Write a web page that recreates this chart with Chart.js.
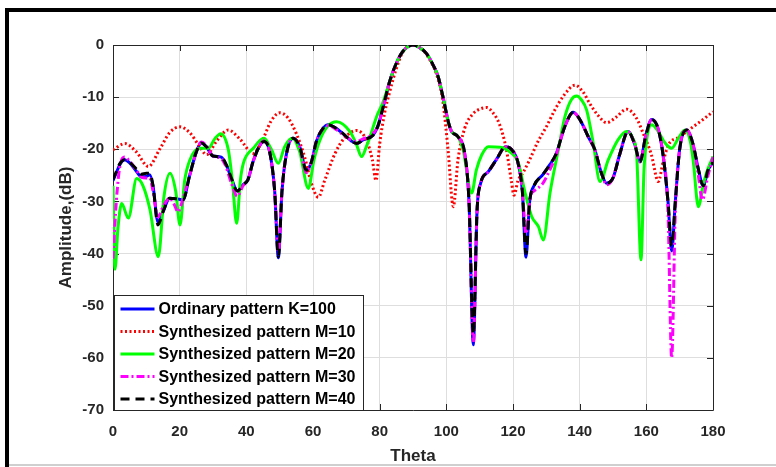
<!DOCTYPE html>
<html>
<head>
<meta charset="utf-8">
<script src="https://cdn.jsdelivr.net/npm/chart.js@4.4.1/dist/chart.umd.min.js"></script>
<style>
body { margin: 0; background: #fff; }
#wrap { position: relative; width: 776px; height: 467px; overflow: hidden; }
#marco { position: absolute; left: 5px; top: 8px; width: 800px; height: 500px; border-top: 4px solid #000; border-left: 4px solid #000; pointer-events: none; }
#linea { position: absolute; left: 9px; top: 464px; width: 767px; height: 2px; background: #cfcfcf; }
</style>
</head>
<body>
<div id="wrap">
<canvas id="grafica" width="776" height="467"></canvas>
<div id="marco"></div>
<div id="linea"></div>
</div>
<script>
// ejes
const xTicks = [0, 20, 40, 60, 80, 100, 120, 140, 160, 180];
const yTicks = [0, -10, -20, -30, -40, -50, -60, -70];

// Ordinary pattern K=100 (y el M=40 usa los mismos angulos)
const ordTheta = [0,1,2,3.5,5,7,8.5,10,11,12,13.5,15,17,19,21,23,25,26.5,28,30,32.5,34,35.5,37.3,39,40.5,42,44,45.3,47,48.5,49.6,50.7,52,54,56,58,59.5,61,63,64.6,66.5,69,71.5,73.1,75,78,79.5,81,83,85,87,90,92,94,96,97.5,99,100.5,101.5,103.5,105.5,106.8,108.1,109.2,110.3,112.6,115,117.8,119.5,121.5,122.8,123.9,125,126.3,129,131,133,135.5,138.1,140.5,142.5,144.5,146.5,148.1,150,152,154.5,156.5,158.1,159.8,161.6,163.5,165,166.5,167.6,168.7,170,172.1,174,175.5,177.1,178.5,180];
const ordDb = [-26,-24.5,-23,-22,-22.6,-24.2,-25.3,-25.2,-24.9,-27,-34,-32,-29.4,-29.5,-29.7,-25,-20.5,-18.8,-19.5,-21.3,-21.5,-23,-25.5,-28,-26.8,-25.8,-22.4,-19.3,-18.5,-20.5,-28,-40.8,-28,-21,-17.9,-19.5,-24,-22.5,-18.5,-16,-15.3,-15.8,-17,-18.4,-18.9,-18.2,-17.3,-15.5,-12,-7,-3.5,-1.2,0,-0.5,-1.6,-3.8,-6,-10,-14.5,-16.5,-17.6,-20.8,-30,-57.5,-32,-26.5,-24.3,-22,-19.5,-20,-22.6,-28,-40.7,-30,-27,-24.8,-23,-20.8,-15.7,-12.9,-14.8,-17.5,-20,-24.5,-26.5,-25.5,-21,-16.6,-19,-22.4,-17.5,-14.3,-16,-21,-30,-39.5,-30,-20,-16.3,-19,-23.5,-27,-24,-22.5];

// M=10
const m10Theta = [0,3.6,7,10.6,14,17,20.1,23,25.5,28.1,31,34.6,38,42.1,45,47.5,50.1,52.5,55,57.5,59.5,61.6,63.5,66.6,69.5,73.1,76,77.8,78.9,80,81.5,83,85,87,90,93,95,97,99,100.5,102.1,103.5,105.5,108,110,112.1,114,116,118,119.5,120.3,121.5,123,125,127.5,130,132.5,135,138.6,141,143,145.5,148.1,151,154.1,157,159.1,161.5,163.6,165,166.6,170,174,177,180];
const m10Db = [-20.1,-18.9,-20.5,-23.3,-20,-16.8,-15.7,-16.8,-19,-21,-18.5,-16.3,-18,-20.8,-18,-14.5,-13,-14,-17,-21.5,-26.5,-29.2,-26,-20.8,-17.8,-16.4,-18.2,-22,-26,-19,-13,-9,-4.5,-1.3,0,-1,-2.8,-5.5,-11,-20,-31,-22,-16,-13.2,-12.3,-12,-13,-15.3,-20,-26,-28.8,-26,-24.5,-22,-18.5,-15.7,-12.5,-9.9,-7.7,-9,-11.2,-13.5,-14.9,-13.8,-12.3,-14,-17,-21,-26.2,-22.5,-19.2,-17.6,-15.7,-14.3,-12.8];

// M=20
const m20Theta = [0,0.6,1.5,2.6,4.6,7.1,9,11.1,13.6,15.3,17.1,18.8,20.1,21.5,23.1,26.1,28.6,30.5,32.3,34.6,35.8,37.1,38.2,39.1,42.1,45.3,47.5,49.6,51.5,53.8,56,58.6,60.3,62.1,64.5,67.1,71.1,73,74.6,76,77.1,79.1,81,83,85,87,90,92,94,96,97.5,99,100.5,101.5,103.5,105,107.6,109,110.6,112.6,116.1,119.1,121.6,123.5,125.6,127.6,129.1,131.1,133.6,135.6,137.5,139.1,140.5,142.1,144.1,146.1,148.6,151.5,154.1,156,157.1,158.4,159.3,160.1,161.6,163.5,165.5,167.6,169.5,171.6,173.2,174.1,175.6,177,178.1,180];
const m20Db = [-27,-43,-35,-30.4,-33.2,-25.6,-27,-31.6,-40.6,-29,-24.6,-28,-34.5,-26,-22,-19.8,-19.8,-18,-17,-20.1,-26,-34.2,-26,-22.7,-19.8,-17.9,-20,-22.7,-19.5,-17.9,-20.5,-27.5,-22,-18.2,-15.5,-14.7,-16.6,-19,-21.4,-19.5,-17.6,-13.7,-11,-7,-3.5,-1.2,0,-0.5,-1.6,-3.8,-6,-10,-14.5,-16.5,-17.6,-20,-28.4,-24,-21.1,-19.5,-19.6,-20.5,-22.6,-28,-32.9,-34.8,-37.4,-28.4,-20.1,-13.7,-10.5,-9.8,-10.5,-12.5,-18.9,-26.2,-22,-18.2,-16.6,-18,-21.1,-41.2,-24,-18.2,-15.3,-16.5,-18.7,-19.8,-18,-16.3,-18.5,-22.4,-31,-27,-24.4,-21.4];

// M=30
const m30Theta = [0,1,2,3.5,5,7,8.5,10,11,12,13.5,15,17,18.3,19.5,21,23,25,26.5,28,30,32.5,34,35.5,37.3,39,40.5,42,44,45.3,47,48.5,49.6,50.7,52,54,56,58,59.5,61,63,64.6,66.5,69,71.5,73.1,75,78,79.5,81,83,85,87,90,92,94,96,97.5,99,100.5,101.5,103.5,105.5,106.8,108.1,109.2,110.3,112.6,115,117.8,119.5,121.5,122.8,123.9,125.2,126.3,129,131,133,135.5,138.1,140.5,142.5,144.5,146.5,148.1,150,152,154.5,156.5,158.1,159.8,161.6,163.5,165,166.5,167.6,168.7,170,172.1,174,175.5,176.8,178.5,180];
const m30Db = [-41,-30,-23.5,-21.5,-22.3,-24,-25.3,-25.5,-25.5,-28,-33,-31,-29.4,-30.5,-32,-29.5,-25,-20.5,-18.6,-19.3,-21.3,-21.8,-23.5,-26.5,-29,-27,-25.8,-22.4,-19.3,-18.3,-20.5,-28,-40,-28,-21,-17.9,-19.5,-24.5,-22.5,-18.5,-16,-15.5,-16,-17.2,-18.2,-18.5,-18,-17,-15.5,-12,-7,-3.5,-1.2,0,-0.5,-1.6,-3.8,-6,-10,-14.5,-16.5,-17.6,-20.8,-30,-57,-32,-26.5,-24.3,-22,-19.5,-20,-22.6,-28,-36.2,-29,-28,-26.5,-24,-21,-15.7,-13,-14.8,-17.5,-20,-24.5,-26.8,-25.5,-21,-16.6,-19,-22.4,-17.5,-14.3,-16,-21,-32,-60,-32,-20,-16.3,-19,-24.5,-29.7,-25,-21.5];

// M=40 (mismos angulos que K=100)
const m40Db = [-25.8,-24.3,-22.8,-22,-22.5,-23.8,-24.8,-24.6,-24.6,-27,-34.5,-32,-29.4,-29.5,-29.7,-25,-20.5,-18.8,-19.5,-21.3,-21.5,-23,-25.5,-28,-26.8,-25.8,-22.4,-19.3,-18.5,-20.5,-28,-40.6,-28,-21,-17.9,-19.5,-24,-22.5,-18.5,-16,-15.3,-15.8,-17,-18.4,-18.9,-18.2,-17.3,-15.5,-12,-7,-3.5,-1.2,0,-0.5,-1.6,-3.8,-6,-10,-14.5,-16.5,-17.6,-20.8,-30,-55.5,-32,-26.5,-24.3,-22,-19.5,-20,-22.6,-28,-40,-30,-27,-24.8,-23,-20.8,-15.7,-12.9,-14.8,-17.5,-20,-24.5,-26.5,-25.5,-21,-16.6,-19,-22.4,-17.5,-14.3,-16,-21,-30,-38.5,-30,-20,-16.3,-19,-23.5,-27,-24,-22.5];

function puntos(th, db) {
    return th.map((t, i) => ({ x: t, y: db[i] }));
}

const fuente = 'Liberation Sans, Arial, sans-serif';

// caja del eje con las marcas hacia dentro
const cajaEjes = {
    id: 'cajaEjes',
    beforeDatasetsDraw(chart) {
        const { ctx, chartArea: a, scales: { x, y } } = chart;
        ctx.save();
        ctx.strokeStyle = '#262626';
        ctx.lineWidth = 1;
        ctx.beginPath();
        ctx.rect(Math.round(a.left) + 0.5, Math.round(a.top) + 0.5, Math.round(a.right - a.left), Math.round(a.bottom - a.top));
        xTicks.forEach(v => {
            const px = Math.round(x.getPixelForValue(v)) + 0.5;
            ctx.moveTo(px, a.top); ctx.lineTo(px, a.top + 6);
            ctx.moveTo(px, a.bottom); ctx.lineTo(px, a.bottom - 6);
        });
        yTicks.forEach(v => {
            const py = Math.round(y.getPixelForValue(v)) + 0.5;
            ctx.moveTo(a.left, py); ctx.lineTo(a.left + 6, py);
            ctx.moveTo(a.right, py); ctx.lineTo(a.right - 6, py);
        });
        ctx.stroke();
        ctx.restore();
    }
};

// leyenda dentro del area, abajo a la izquierda
const leyenda = {
    id: 'leyenda',
    afterDraw(chart) {
        const { ctx, chartArea: a } = chart;
        const x0 = Math.round(a.left) + 1.5, y0 = 295.5;
        const w = 249, h = Math.round(a.bottom) - 295;
        ctx.save();
        ctx.fillStyle = '#fff';
        ctx.fillRect(x0, y0, w, h);
        ctx.strokeStyle = '#262626';
        ctx.lineWidth = 1;
        ctx.strokeRect(x0, y0, w, h);
        chart.data.datasets.forEach((ds, i) => {
            const yy = 309 + i * 22.5;
            ctx.strokeStyle = ds.borderColor;
            ctx.lineWidth = ds.borderWidth;
            ctx.setLineDash(ds.borderDash || []);
            ctx.beginPath();
            ctx.moveTo(x0 + 6, yy);
            ctx.lineTo(x0 + 40, yy);
            ctx.stroke();
            ctx.setLineDash([]);
            ctx.fillStyle = '#000';
            ctx.font = 'bold 16px ' + fuente;
            ctx.textBaseline = 'middle';
            ctx.fillText(ds.label, x0 + 44, yy + 1);
        });
        ctx.restore();
    }
};

const grafica = new Chart(document.getElementById('grafica').getContext('2d'), {
    type: 'line',
    data: {
        datasets: [
            { label: 'Ordinary pattern K=100', data: puntos(ordTheta, ordDb), borderColor: '#0000ff', borderWidth: 3, borderDash: [], order: 5 },
            { label: 'Synthesized pattern M=10', data: puntos(m10Theta, m10Db), borderColor: '#ff0000', borderWidth: 3, borderDash: [2, 2.5], order: 4 },
            { label: 'Synthesized pattern M=20', data: puntos(m20Theta, m20Db), borderColor: '#00ff00', borderWidth: 3, borderDash: [], order: 3 },
            { label: 'Synthesized pattern M=30', data: puntos(m30Theta, m30Db), borderColor: '#ff00ff', borderWidth: 3, borderDash: [8, 3, 2, 3], order: 2 },
            { label: 'Synthesized pattern M=40', data: puntos(ordTheta, m40Db), borderColor: '#000000', borderWidth: 3, borderDash: [9, 6], order: 1 }
        ]
    },
    options: {
        responsive: false,
        animation: false,
        devicePixelRatio: 1,
        layout: { padding: { left: 0, right: 63, top: 45, bottom: 0 } },
        elements: {
            point: { radius: 0 },
            line: { cubicInterpolationMode: 'monotone', fill: false }
        },
        plugins: {
            legend: { display: false },
            tooltip: { enabled: false }
        },
        scales: {
            x: {
                type: 'linear',
                min: 0,
                max: 180,
                afterFit: s => { s.height = 57; },
                afterBuildTicks: s => { s.ticks = xTicks.map(v => ({ value: v })); },
                grid: { color: '#dedede', drawTicks: false },
                border: { display: false },
                ticks: { padding: 13, color: '#262626', font: { family: fuente, size: 15, weight: 'bold' } },
                title: { display: true, text: 'Theta', color: '#262626', font: { family: fuente, size: 17, weight: 'bold' }, padding: { top: 0, bottom: 0 } }
            },
            y: {
                type: 'linear',
                min: -70,
                max: 0,
                afterFit: s => { s.width = 113; },
                afterBuildTicks: s => { s.ticks = yTicks.map(v => ({ value: v })); },
                grid: { color: '#dedede', drawTicks: false },
                border: { display: false },
                ticks: { padding: 9, color: '#262626', font: { family: fuente, size: 15, weight: 'bold' } },
                title: { display: true, text: 'Amplitude,(dB)', color: '#262626', font: { family: fuente, size: 17, weight: 'bold' }, padding: { top: 56, bottom: 0 } }
            }
        }
    },
    plugins: [cajaEjes, leyenda]
});
</script>
</body>
</html>
